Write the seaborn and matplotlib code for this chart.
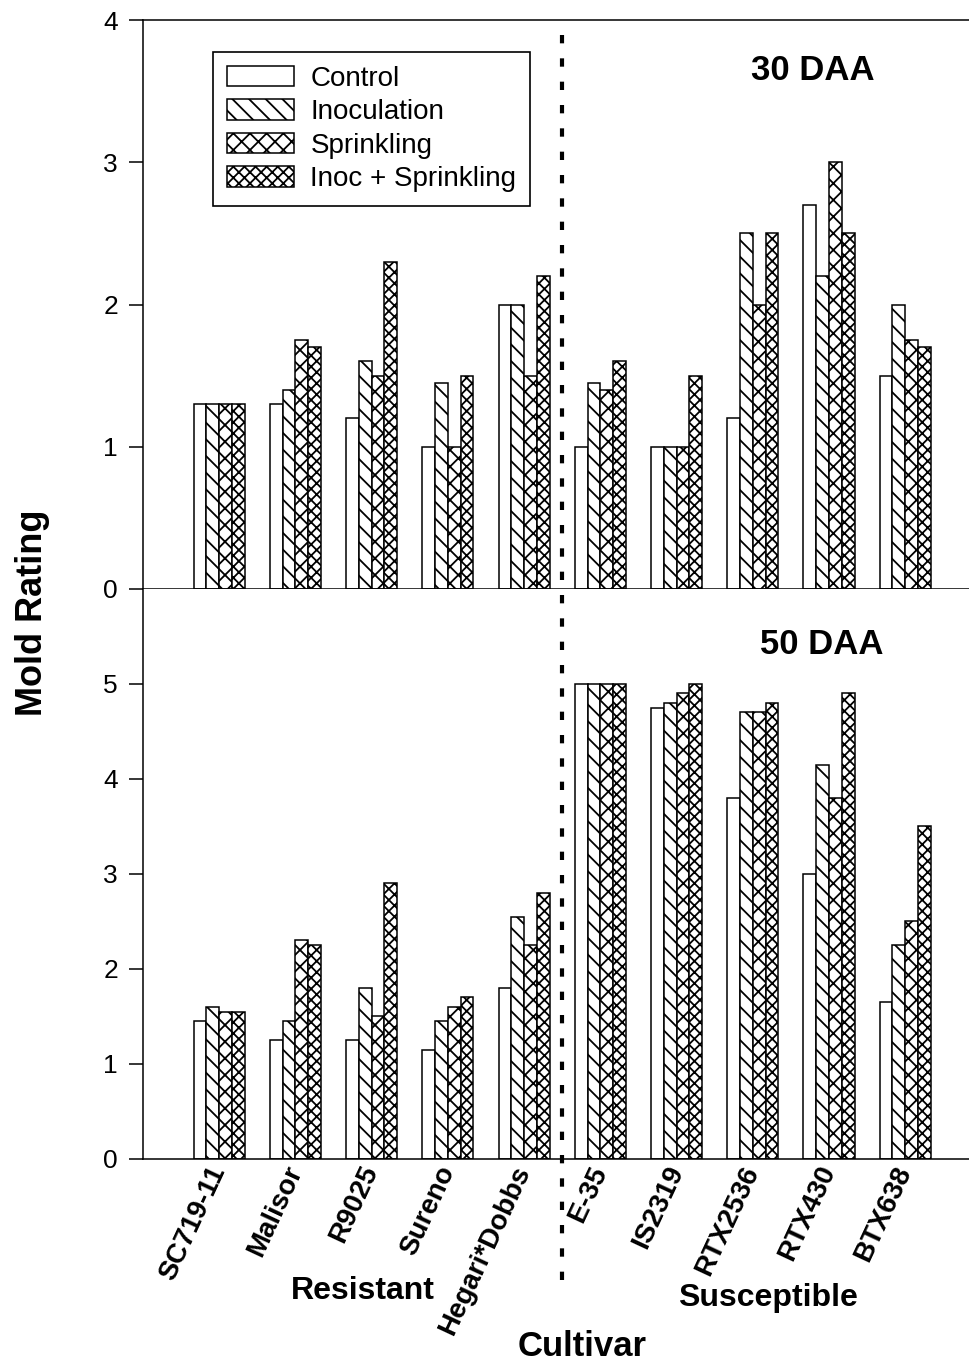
import pandas as pd
import matplotlib.pyplot as plt
import seaborn as sns
from matplotlib.patches import Patch
from matplotlib.lines import Line2D
from matplotlib.transforms import blended_transform_factory

# Mold rating of sorghum cultivars
cultivars = ['SC719-11', 'Malisor', 'R9025', 'Sureno', 'Hegari*Dobbs',
             'E-35', 'IS2319', 'RTX2536', 'RTX430', 'BTX638']
treatments = ['Control', 'Inoculation', 'Sprinkling', 'Inoc + Sprinkling']

# 30 DAA
control_30 = [1.3, 1.3, 1.2, 1.0, 2.0, 1.0, 1.0, 1.2, 2.7, 1.5]
inoc_30 = [1.3, 1.4, 1.6, 1.45, 2.0, 1.45, 1.0, 2.5, 2.2, 2.0]
sprink_30 = [1.3, 1.75, 1.5, 1.0, 1.5, 1.4, 1.0, 2.0, 3.0, 1.75]
both_30 = [1.3, 1.7, 2.3, 1.5, 2.2, 1.6, 1.5, 2.5, 2.5, 1.7]

# 50 DAA
control_50 = [1.45, 1.25, 1.25, 1.15, 1.8, 5.0, 4.75, 3.8, 3.0, 1.65]
inoc_50 = [1.6, 1.45, 1.8, 1.45, 2.55, 5.0, 4.8, 4.7, 4.15, 2.25]
sprink_50 = [1.55, 2.3, 1.5, 1.6, 2.25, 5.0, 4.9, 4.7, 3.8, 2.5]
both_50 = [1.55, 2.25, 2.9, 1.7, 2.8, 5.0, 5.0, 4.8, 4.9, 3.5]

hatches = ['', '\\\\', 'xx', 'xxx']


def long_table(series):
    rows = []
    for treat, vals in zip(treatments, series):
        for cult, v in zip(cultivars, vals):
            rows.append({'Cultivar': cult, 'Treatment': treat, 'Rating': v})
    return pd.DataFrame(rows)


df30 = long_table([control_30, inoc_30, sprink_30, both_30])
df50 = long_table([control_50, inoc_50, sprink_50, both_50])

sns.set_style('ticks')
plt.rcParams['font.family'] = ['Liberation Sans', 'DejaVu Sans']
plt.rcParams['hatch.linewidth'] = 1.3
for key in ['text.color', 'axes.labelcolor', 'xtick.color', 'ytick.color',
            'axes.edgecolor']:
    plt.rcParams[key] = 'black'

fig = plt.figure(figsize=(9.7, 13.64), dpi=100)
ax1 = fig.add_axes([0.1474, 0.5682, 0.8526, 0.4171])
ax2 = fig.add_axes([0.1474, 0.1503, 0.8526, 0.4179])

for ax, df in [(ax1, df30), (ax2, df50)]:
    sns.barplot(data=df, x='Cultivar', y='Rating', hue='Treatment',
                order=cultivars, hue_order=treatments,
                palette=['white'] * 4, edgecolor='black', linewidth=1.1,
                width=0.67, gap=0, errorbar=None, legend=False, ax=ax)
    for cont, h in zip(ax.containers, hatches):
        for bar in cont:
            bar.set_hatch(h)
    ax.set_xlim(-1.0, 9.85)
    ax.set_xlabel('')
    ax.set_ylabel('')
    ax.tick_params(axis='y', length=10, width=1.1, labelsize=19, pad=8,
                   direction='out', colors='black')
    ax.tick_params(axis='x', length=0, colors='black')
    for s in ax.spines.values():
        s.set_linewidth(1.1)
        s.set_color('black')
    ax.spines['right'].set_visible(False)

ax1.set_ylim(0, 4)
ax1.set_yticks([0, 1, 2, 3, 4])
ax1.tick_params(axis='x', labelbottom=False)

ax2.set_ylim(0, 6)
ax2.set_yticks([0, 1, 2, 3, 4, 5])
ax2.spines['top'].set_visible(False)
ax2.set_xticks(range(len(cultivars)))
ax2.set_xticklabels(cultivars, rotation=65, ha='right', va='center',
                    rotation_mode='anchor', fontsize=20, fontweight='bold')
ax2.tick_params(axis='x', pad=6)

ax1.text(0.81, 0.912, '30 DAA', transform=ax1.transAxes, ha='center',
         va='center', fontsize=25, fontweight='bold')
ax2.text(0.821, 0.902, '50 DAA', transform=ax2.transAxes, ha='center',
         va='center', fontsize=25, fontweight='bold')

handles = [Patch(facecolor='white', edgecolor='black', hatch=h, linewidth=1.1)
           for h in hatches]
leg = ax1.legend(handles, treatments, loc='upper left',
                 bbox_to_anchor=(0.085, 0.944), borderaxespad=0,
                 fontsize=20, frameon=True, fancybox=False,
                 edgecolor='black', handlelength=2.4, handleheight=0.75,
                 labelspacing=0.27, borderpad=0.5, handletextpad=0.6)
leg.get_frame().set_linewidth(1.2)
leg.get_frame().set_alpha(1)

# dashed divider between resistant and susceptible cultivars
tr = blended_transform_factory(ax2.transData, fig.transFigure)
fig.add_artist(Line2D([4.5, 4.5], [0.0616, 0.982], transform=tr,
                      color='black', lw=3, linestyle=(0, (2, 3.6)),
                      dash_capstyle='butt'))

fig.text(0.034, 0.551, 'Mold Rating', rotation=90, ha='center', va='center',
         fontsize=26, fontweight='bold')
fig.text(0.6, 0.0125, 'Cultivar', ha='center', va='center',
         fontsize=25, fontweight='bold')
fig.text(0.374, 0.0535, 'Resistant', ha='center', va='center',
         fontsize=23, fontweight='bold')
fig.text(0.792, 0.0484, 'Susceptible', ha='center', va='center',
         fontsize=23, fontweight='bold')

fig.savefig('out.png', dpi=100)
